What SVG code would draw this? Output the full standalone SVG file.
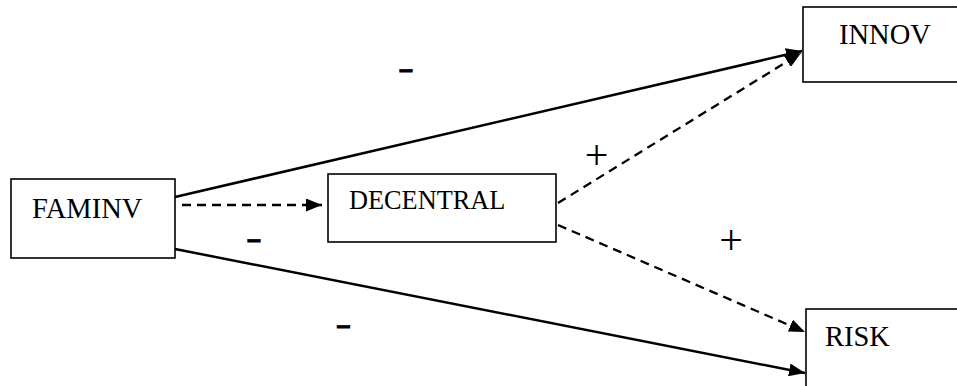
<svg xmlns="http://www.w3.org/2000/svg" width="957" height="386" viewBox="0 0 957 386">
<style>
.box{fill:#fff;stroke:#000;stroke-width:1.6}
.lbl{font-family:"Liberation Serif","Times New Roman",serif;font-size:28.5px;fill:#000}
.solid{fill:none;stroke:#000;stroke-width:2.5}
.dash{fill:none;stroke:#000;stroke-width:2.3;stroke-dasharray:9,6}
.minus{font-family:"Liberation Sans",Arial,sans-serif;font-weight:bold;font-size:25px;text-anchor:middle;fill:#000;stroke:#000;stroke-width:0.9}
.plus{font-family:"Liberation Serif","Times New Roman",serif;font-size:42px;text-anchor:middle;fill:#000}
</style>
<defs>
<marker id="ah" markerUnits="userSpaceOnUse" markerWidth="17" markerHeight="13" refX="16" refY="6.5" orient="auto">
<path d="M0,0 L16,6.5 L0,13 z" fill="#000"/>
</marker>
</defs>
<rect width="957" height="386" fill="#fff"/>
<g id="connectors">
<line class="solid" x1="175" y1="197" x2="802" y2="51" marker-end="url(#ah)"/>
<line class="solid" x1="175" y1="249" x2="805" y2="373" marker-end="url(#ah)"/>
<line class="dash" x1="182" y1="205" x2="322" y2="205" marker-end="url(#ah)"/>
<line class="dash" x1="558" y1="203" x2="801" y2="53" marker-end="url(#ah)"/>
<line class="dash" x1="558" y1="225" x2="805" y2="332" marker-end="url(#ah)"/>
</g>
<g id="FAMINV">
<rect class="box" x="11" y="179" width="164" height="79"/>
<text class="lbl" x="32" y="218">FAMINV</text>
</g>
<g id="DECENTRAL">
<rect class="box" x="328" y="174" width="228" height="68"/>
<text class="lbl" x="349" y="209" style="font-size:26.3px">DECENTRAL</text>
</g>
<g id="INNOV">
<rect class="box" x="803" y="7" width="160" height="75"/>
<text class="lbl" x="839" y="44">INNOV</text>
</g>
<g id="RISK">
<rect class="box" x="806" y="309" width="160" height="90"/>
<text class="lbl" x="825" y="346">RISK</text>
</g>
<g id="signs">
<text class="minus" x="406" y="77.5">–</text>
<text class="minus" x="254" y="248">–</text>
<text class="minus" x="343.5" y="333.5">–</text>
<text class="plus" x="596.5" y="169">+</text>
<text class="plus" x="731" y="253.5">+</text>
</g>
</svg>
